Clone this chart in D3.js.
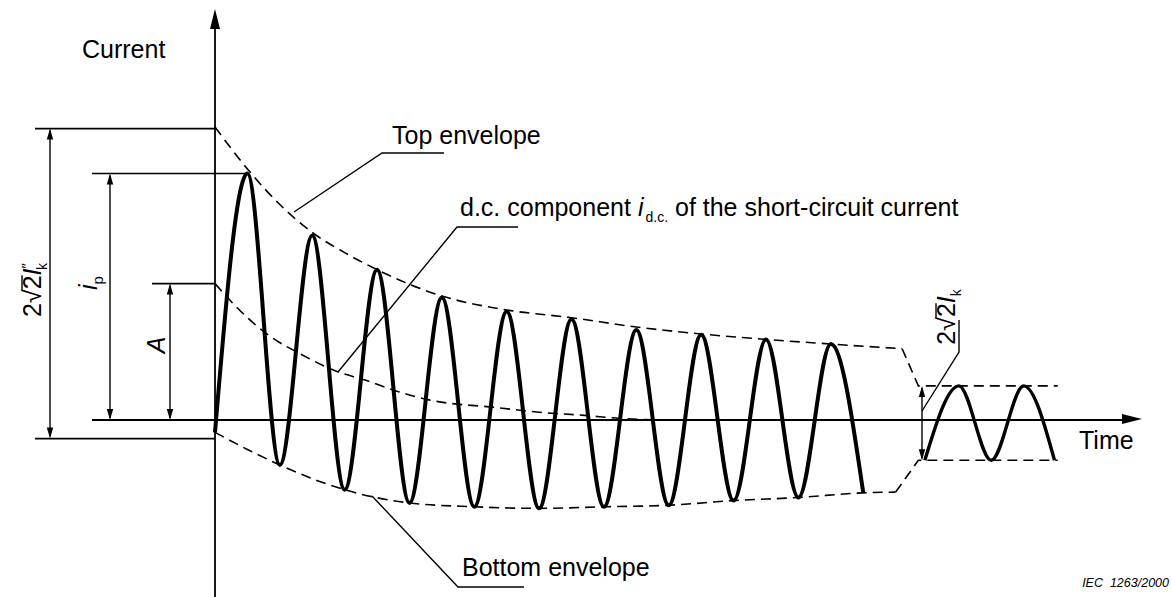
<!DOCTYPE html>
<html>
<head>
<meta charset="utf-8">
<script src="https://cdn.jsdelivr.net/npm/d3@7"></script>
<style>
  body { margin: 0; background: #fff; }
  svg { display: block; font-family: "Liberation Sans", Arial, sans-serif; }
  .lbl { font-size: 25px; fill: #000; }
</style>
</head>
<body>
<div id="chart"></div>
<script>
var svgWidth = 1172;
var svgHeight = 597;

// time in ms (50 Hz cycles), current in units of sqrt(2)*I"k
var peakT = [10, 30, 50, 70, 90, 110, 130, 150, 170, 190];
var peakI = [1.59, 1.19, 0.97, 0.79, 0.70, 0.65, 0.58, 0.55, 0.52, 0.49];
var troughT = [0, 20, 40, 60, 80, 100, 120, 140, 160, 180, 200];
var troughI = [-0.08, -0.29, -0.45, -0.535, -0.56, -0.57, -0.56, -0.55, -0.52, -0.50, -0.47];

// top / bottom envelope (dashed)
var topEnvT = [0, 10, 20, 30, 40, 50, 70, 90, 110, 130, 150, 170, 190, 212];
var topEnvI = [1.89, 1.62, 1.39, 1.21, 1.08, 0.97, 0.80, 0.71, 0.66, 0.60, 0.555, 0.52, 0.49, 0.46];
var botEnvT = [0, 10, 20, 40, 60, 80, 100, 120, 140, 160, 180, 200, 210];
var botEnvI = [-0.08, -0.19, -0.29, -0.45, -0.535, -0.56, -0.57, -0.56, -0.55, -0.52, -0.50, -0.47, -0.465];

// d.c. component
var dcT = [0, 8, 17, 26, 38, 46, 57, 66, 87, 100, 114, 125, 137];
var dcI = [0.88, 0.70, 0.54, 0.43, 0.31, 0.26, 0.18, 0.13, 0.08, 0.05, 0.03, 0.01, 0];

// steady state part (2*sqrt2*Ik)
var steadyT = [219, 229.5, 239.5, 249.5, 259];
var steadyI = [-0.26, 0.22, -0.26, 0.22, -0.26];
var steadyTop = 0.22, steadyBot = -0.26;
var steadyStart = 217, steadyEnd = 260;

var A = dcI[0];            // initial d.c. value
var ip = d3.max(peakI);    // peak short-circuit current
var outerTop = A + 1, outerBot = A - 1;   // 2*sqrt2*I"k

var svg = d3.select("#chart")
  .append("svg")
  .attr("width", svgWidth)
  .attr("height", svgHeight);

svg.append("rect").attr("width", svgWidth).attr("height", svgHeight).attr("fill", "#fff");

var x = d3.scaleLinear().domain([0, 286]).range([215, 1142]);
var y = d3.scaleLinear().domain([0, 1]).range([420, 265]);

function pts(ts, vs) { return ts.map(function(t, i) { return [t, vs[i]]; }); }

var smooth = d3.line().x(function(d) { return x(d[0]); }).y(function(d) { return y(d[1]); })
  .curve(d3.curveMonotoneX);
var straight = d3.line().x(function(d) { return x(d[0]); }).y(function(d) { return y(d[1]); });

function arrowHead(px, py, dir, len, hw) {
  // dir: "up", "down", "right"
  var p;
  if (dir == "up") p = [[px, py], [px - hw, py + len], [px + hw, py + len]];
  else if (dir == "down") p = [[px, py], [px - hw, py - len], [px + hw, py - len]];
  else p = [[px, py], [px - len, py - hw], [px - len, py + hw]];
  svg.append("path").attr("d", "M" + p.join("L") + "Z").attr("fill", "#000");
}

function dimLine(px, v1, v2) {
  var y1 = y(v1), y2 = y(v2);
  svg.append("line").attr("x1", px).attr("x2", px).attr("y1", y1 + 2).attr("y2", y2 - 2)
    .attr("stroke", "#000").attr("stroke-width", 1.4);
  arrowHead(px, y1, "up", 11, 3.2);
  arrowHead(px, y2, "down", 11, 3.2);
}

function hline(x1, x2, v) {
  svg.append("line").attr("x1", x1).attr("x2", x2).attr("y1", y(v)).attr("y2", y(v))
    .attr("stroke", "#000").attr("stroke-width", 1.6);
}

// axes
svg.append("line").attr("x1", 215).attr("x2", 215).attr("y1", 597).attr("y2", 24)
  .attr("stroke", "#000").attr("stroke-width", 1.8);
arrowHead(215, 9, "up", 20, 5);
svg.append("line").attr("x1", 92).attr("x2", x(286) - 16).attr("y1", y(0)).attr("y2", y(0))
  .attr("stroke", "#000").attr("stroke-width", 1.8);
arrowHead(x(286), y(0) - 1, "right", 20, 5);

// dimension reference lines
hline(35, 215, outerTop);
hline(35, 215, outerBot);
hline(92, x(peakT[0]), ip);
hline(152, 215, A);

dimLine(50, outerTop, outerBot);
dimLine(110, ip, 0);
dimLine(170, A, 0);

// dashed curves
var dash = "10,6";
svg.append("path").attr("d", smooth(pts(topEnvT, topEnvI)))
  .attr("fill", "none").attr("stroke", "#000").attr("stroke-width", 1.6).attr("stroke-dasharray", dash);
svg.append("path").attr("d", smooth(pts(botEnvT, botEnvI)))
  .attr("fill", "none").attr("stroke", "#000").attr("stroke-width", 1.6).attr("stroke-dasharray", dash);
svg.append("path").attr("d", smooth(pts(dcT, dcI)))
  .attr("fill", "none").attr("stroke", "#000").attr("stroke-width", 1.6).attr("stroke-dasharray", dash);

// transition to steady state envelope
svg.append("path")
  .attr("d", straight([[topEnvT[topEnvT.length - 1], topEnvI[topEnvI.length - 1]], [steadyStart, steadyTop], [steadyEnd, steadyTop]]))
  .attr("fill", "none").attr("stroke", "#000").attr("stroke-width", 1.6).attr("stroke-dasharray", dash);
svg.append("path")
  .attr("d", straight([[botEnvT[botEnvT.length - 1], botEnvI[botEnvI.length - 1]], [steadyStart, steadyBot], [steadyEnd, steadyBot]]))
  .attr("fill", "none").attr("stroke", "#000").attr("stroke-width", 1.6).attr("stroke-dasharray", dash);

// short-circuit current waveform
var wave = d3.sort(pts(peakT, peakI).concat(pts(troughT, troughI)), function(d) { return d[0]; });
svg.append("path").attr("d", smooth(wave))
  .attr("fill", "none").attr("stroke", "#000").attr("stroke-width", 4).attr("stroke-linejoin", "round");
svg.append("path").attr("d", smooth(pts(steadyT, steadyI)))
  .attr("fill", "none").attr("stroke", "#000").attr("stroke-width", 3.4).attr("stroke-linejoin", "round");

// steady state dimension
dimLine(922, steadyTop, steadyBot);

// leader lines
function leader(p) {
  svg.append("path").attr("d", "M" + p.join("L")).attr("fill", "none")
    .attr("stroke", "#000").attr("stroke-width", 1.4);
}
leader([[444, 153], [382, 153], [294, 212]]);
leader([[518, 227], [457, 227], [338, 372]]);
leader([[524, 587], [458, 587], [372, 496]]);
leader([[922, 411], [959, 352], [959, 320]]);

// texts
svg.append("text").attr("class", "lbl").attr("x", 82).attr("y", 58).text("Current");
svg.append("text").attr("class", "lbl").attr("x", 392).attr("y", 144).text("Top envelope");
svg.append("text").attr("class", "lbl").attr("x", 462).attr("y", 576).text("Bottom envelope");
svg.append("text").attr("class", "lbl").attr("x", 1079).attr("y", 449).text("Time");

var dcl = svg.append("text").attr("class", "lbl").attr("x", 460).attr("y", 216);
dcl.append("tspan").text("d.c. component ");
dcl.append("tspan").attr("font-style", "italic").text("i");
dcl.append("tspan").attr("font-size", 14).attr("dy", 6).attr("dx", 2).text("d.c.");
dcl.append("tspan").attr("dy", -6).text(" of the short-circuit current");

svg.append("text").attr("x", 1169).attr("y", 587).attr("text-anchor", "end")
  .attr("font-size", 12.5).attr("font-style", "italic").attr("xml:space", "preserve")
  .text("IEC\u00a0\u00a01263/2000");

// rotated labels
function sqrtLabel(tx, ty, prime) {
  var g = svg.append("g").attr("transform", "translate(" + tx + "," + ty + ") rotate(-90)");
  var t = g.append("text").attr("class", "lbl").attr("text-anchor", "middle");
  t.append("tspan").text("2\u221A2");
  t.append("tspan").attr("font-style", "italic").text("I");
  if (prime) {
    t.append("tspan").attr("font-size", 15).attr("dy", -9).text("\u2033");
    t.append("tspan").attr("font-size", 14).attr("dy", 15).attr("dx", -7).text("k");
  } else {
    t.append("tspan").attr("font-size", 14).attr("dy", 6).text("k");
  }
  var e1 = t.node().getExtentOfChar(1), e2 = t.node().getExtentOfChar(2);
  g.append("line").attr("x1", e1.x + e1.width - 1).attr("x2", e2.x + e2.width)
    .attr("y1", -19).attr("y2", -19).attr("stroke", "#000").attr("stroke-width", 1.4);
}
sqrtLabel(41, 290, true);
sqrtLabel(955, 317, false);

var gi = svg.append("g").attr("transform", "translate(97,283) rotate(-90)");
var ti = gi.append("text").attr("class", "lbl").attr("text-anchor", "middle");
ti.append("tspan").attr("font-style", "italic").text("i");
ti.append("tspan").attr("font-size", 15).attr("dy", 6).text("p");

svg.append("g").attr("transform", "translate(165,345) rotate(-90)")
  .append("text").attr("class", "lbl").attr("text-anchor", "middle").attr("font-style", "italic").text("A");
</script>
</body>
</html>
